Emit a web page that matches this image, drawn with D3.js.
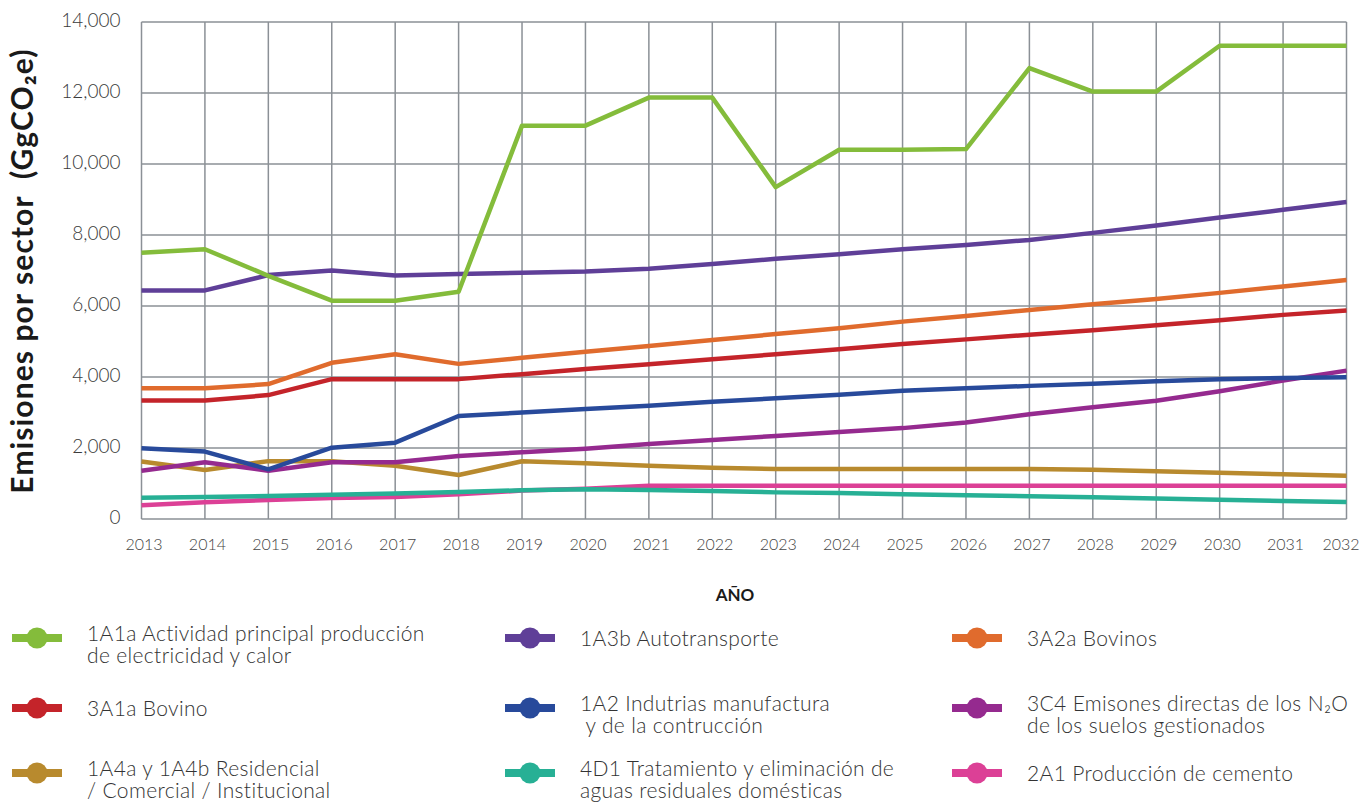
<!DOCTYPE html>
<html>
<head>
<meta charset="utf-8">
<script src="https://cdn.jsdelivr.net/npm/d3@7"></script>
<style>
  body { margin: 0; background: #fff; }
  svg { display: block; font-family: Lato, "Noto Sans", sans-serif; }
</style>
</head>
<body>
<svg width="1364" height="806"></svg>
<script>
// data
var years = [2013,2014,2015,2016,2017,2018,2019,2020,2021,2022,2023,2024,2025,2026,2027,2028,2029,2030,2031,2032];
var yTicks = [0,2000,4000,6000,8000,10000,12000,14000];

var s1A1a = [7500,7600,6850,6150,6150,6400,11080,11080,11870,11870,9350,10400,10400,10420,12700,12040,12040,13330,13330,13330];
var s1A3b = [6440,6440,6870,7000,6860,6900,6940,6970,7050,7180,7330,7460,7600,7720,7860,8060,8270,8490,8710,8930];
var s3A2a = [3680,3680,3800,4400,4640,4370,4540,4710,4870,5040,5210,5370,5560,5720,5890,6050,6200,6370,6550,6730];
var s3A1a = [3340,3340,3490,3940,3940,3940,4080,4225,4360,4500,4640,4780,4930,5060,5190,5320,5460,5600,5750,5870];
var s1A2  = [1990,1900,1400,2010,2150,2900,3000,3100,3190,3300,3400,3500,3615,3680,3750,3810,3880,3940,3970,3990];
var s3C4  = [1360,1600,1360,1600,1600,1775,1880,1980,2110,2225,2340,2450,2560,2720,2950,3150,3330,3600,3900,4180];
var s1A4  = [1620,1380,1630,1630,1500,1240,1625,1570,1500,1445,1410,1410,1410,1410,1410,1390,1345,1305,1260,1220];
var s4D1  = [600,620,650,680,720,760,810,840,820,790,750,730,700,670,640,610,580,545,510,480];
var s2A1  = [390,470,535,590,620,700,800,855,940,940,935,935,935,935,935,935,935,935,935,935];

// legend order (column by column)
var series = [
  {label: ['1A1a Actividad principal producción', 'de electricidad y calor'], values: s1A1a, color: '#84bc3b'},
  {label: ['3A1a Bovino'], values: s3A1a, color: '#c4242a'},
  {label: ['1A4a y 1A4b Residencial', '/ Comercial / Institucional'], values: s1A4, color: '#b88a2e'},
  {label: ['1A3b Autotransporte'], values: s1A3b, color: '#5f3f98'},
  {label: ['1A2 Indutrias manufactura', ' y de la contrucción'], values: s1A2, color: '#284a9b'},
  {label: ['4D1 Tratamiento y eliminación de', 'aguas residuales domésticas'], values: s4D1, color: '#27b095'},
  {label: ['3A2a Bovinos'], values: s3A2a, color: '#e06b2d'},
  {label: ['3C4 Emisones directas de los N₂O', 'de los suelos gestionados'], values: s3C4, color: '#952a8f'},
  {label: ['2A1 Producción de cemento'], values: s2A1, color: '#dc4096'}
];
// drawing order (bottom first)
var drawOrder = [8, 5, 2, 7, 4, 1, 6, 3, 0];

var svg = d3.select('svg');

var x = d3.scalePoint().domain(years).range([141.5, 1346.5]);
var y = d3.scaleLinear().domain([0, 14000]).range([519, 22]);

var gridColor = '#8b9096';

// grid
var grid = svg.append('g');
grid.selectAll('line.v').data(years).enter().append('line')
    .attr('x1', function(d){ return x(d); }).attr('x2', function(d){ return x(d); })
    .attr('y1', y(0)).attr('y2', y(14000))
    .attr('stroke', gridColor).attr('stroke-width', 1.5);
grid.selectAll('line.h').data(yTicks).enter().append('line')
    .attr('x1', x(2013)).attr('x2', x(2032))
    .attr('y1', function(d){ return y(d); }).attr('y2', function(d){ return y(d); })
    .attr('stroke', gridColor).attr('stroke-width', 1.5);

// axes (labels only)
var yAxis = d3.axisLeft(y).tickValues(yTicks).tickFormat(d3.format(',')).tickSize(0).tickPadding(21);
var yg = svg.append('g').attr('transform', 'translate(141.5,0)').call(yAxis);
yg.select('.domain').remove();
yg.selectAll('text').attr('font-size', 19).attr('fill', '#3a3a3a').attr('font-weight', 300)
    .attr('font-family', 'Lato, sans-serif').attr('dy', '0.25em');

var xAxis = d3.axisBottom(x).tickSize(0).tickPadding(20);
var xg = svg.append('g').attr('transform', 'translate(0,519)').call(xAxis);
xg.select('.domain').remove();
xg.selectAll('text').attr('font-size', 16).attr('fill', '#444').attr('font-weight', 300)
    .attr('font-family', 'Lato, sans-serif')
    .attr('dx', function(d){ return d === 2032 ? -6 : 2; });

// lines
var line = d3.line()
    .x(function(d, i){ return x(years[i]); })
    .y(function(d){ return y(d); });

svg.append('g').selectAll('path').data(drawOrder.map(function(i){ return series[i]; }))
    .enter().append('path')
    .attr('d', function(d){ return line(d.values); })
    .attr('fill', 'none')
    .attr('stroke', function(d){ return d.color; })
    .attr('stroke-width', 4.5)
    .attr('stroke-linejoin', 'round');

// axis titles
svg.append('text')
    .attr('transform', 'translate(33,271) rotate(-90)')
    .attr('text-anchor', 'middle')
    .attr('xml:space', 'preserve')
    .attr('font-size', 30).attr('font-weight', 'bold').attr('fill', '#1a1a1a')
    .attr('letter-spacing', 1.1)
    .text('Emisiones por sector  (GgCO₂e)');

svg.append('text')
    .attr('x', 735).attr('y', 601)
    .attr('text-anchor', 'middle')
    .attr('font-size', 17).attr('font-weight', 'bold').attr('fill', '#1a1a1a')
    .text('AÑO');

// legend
var colX = [12, 505, 952];
var rowY = [638, 708, 773];
var legend = svg.append('g').selectAll('g').data(series).enter().append('g')
    .attr('transform', function(d, i){
        return 'translate(' + colX[Math.floor(i / 3)] + ',' + rowY[i % 3] + ')';
    });
legend.append('rect')
    .attr('x', 0).attr('y', -4).attr('width', 50).attr('height', 8)
    .attr('fill', function(d){ return d.color; });
legend.append('circle')
    .attr('cx', 25).attr('cy', 0).attr('r', 10.5)
    .attr('fill', function(d){ return d.color; });
legend.each(function(d){
    var t = d3.select(this).append('text')
        .attr('font-size', 21).attr('font-weight', 300).attr('fill', '#333')
        .attr('letter-spacing', 0.35)
        .attr('xml:space', 'preserve');
    var y0 = d.label.length === 1 ? 8 : 3;
    d.label.forEach(function(s, j){
        t.append('tspan').attr('x', 75).attr('y', y0 + j * 22).text(s);
    });
});
</script>
</body>
</html>
